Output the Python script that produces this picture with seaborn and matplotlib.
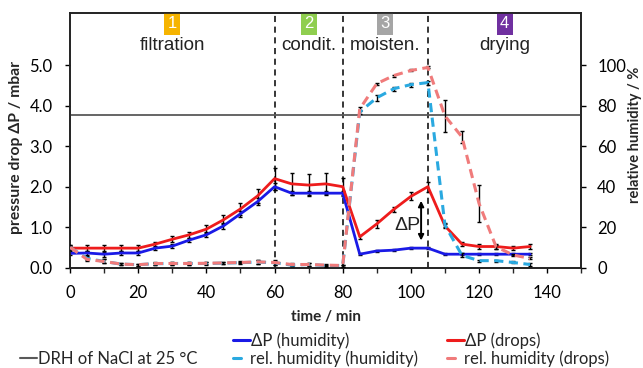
import numpy as np
import pandas as pd
import matplotlib
matplotlib.use('Agg')
import matplotlib.pyplot as plt
import seaborn as sns
from matplotlib.lines import Line2D

# time axis (min)
time = [0, 5, 10, 15, 20, 25, 30, 35, 40, 45, 50, 55, 60, 65, 70, 75, 80,
        85, 90, 95, 100, 105, 110, 115, 120, 125, 130, 135]

# pressure drop (mbar)
dp_humidity = [0.35, 0.36, 0.33, 0.36, 0.36, 0.48, 0.53, 0.68, 0.81, 1.03, 1.33, 1.63, 2.00,
               1.84, 1.84, 1.84, 1.84,
               0.33, 0.41, 0.43, 0.48, 0.48, 0.33, 0.33, 0.33, 0.33, 0.33, 0.33]
dp_humidity_err = [0.05, 0.06, 0.06, 0.06, 0.06, 0.05, 0.05, 0.06, 0.06, 0.08, 0.08, 0.08, 0.08,
                   0.05, 0.05, 0.05, 0.05,
                   0.03, 0.03, 0.03, 0.03, 0.03, 0.03, 0.03, 0.03, 0.03, 0.03, 0.03]
dp_drops = [0.48, 0.48, 0.48, 0.48, 0.48, 0.58, 0.70, 0.81, 0.95, 1.18, 1.45, 1.77, 2.20,
            2.07, 2.04, 2.07, 2.00,
            0.76, 1.08, 1.44, 1.76, 2.00, 1.03, 0.58, 0.52, 0.52, 0.48, 0.52]
dp_drops_err = [0.05, 0.08, 0.08, 0.07, 0.07, 0.06, 0.07, 0.08, 0.09, 0.11, 0.15, 0.17, 0.27,
                0.27, 0.27, 0.26, 0.22,
                0.05, 0.1, 0.06, 0.1, 0.12, 0.05, 0.05, 0.06, 0.06, 0.05, 0.06]

# relative humidity (%)
rh_humidity = [10, 4.5, 3, 1.7, 1.4, 1.9, 2, 2, 2, 2.2, 2.4, 2.7, 2.4,
               1.2, 1.5, 1, 1,
               77, 84, 88.5, 90.5, 91.5, 21, 6, 3.4, 3.4, 2.5, 1.5]
rh_humidity_err = [1, 1, 1, 0.5, 0.5, 0.5, 0.5, 0.5, 0.5, 0.5, 0.5, 1, 1,
                   0.5, 0.5, 0.5, 0.5,
                   1, 1.5, 1, 1, 1, 1, 1, 0.5, 0.5, 0.5, 0.5]
rh_drops = [10, 4, 3, 1.7, 1.4, 2, 2, 2, 2.1, 2.3, 2.5, 2.8, 2.5,
            1.5, 1.5, 1.2, 1,
            78.5, 91, 95, 97.5, 99, 75, 64.6, 31.7, 10.3, 6.2, 4.5]
rh_drops_err = [1, 1, 1, 0.5, 0.5, 0.5, 0.5, 0.5, 0.5, 0.5, 0.5, 1, 1,
                0.5, 0.5, 0.5, 0.5,
                1, 0.5, 0.5, 0.5, 0.5, 8, 3, 9, 1, 0.5, 0.5]

drh_nacl = 75.3
phase_bounds = [60, 80, 105]
phase_names = ['filtration', 'condit.', 'moisten.', 'drying']
phase_nums = ['1', '2', '3', '4']
phase_x = [30, 70, 92.5, 127.5]
phase_colors = ['#f6b400', '#8fce4f', '#a5a5a5', '#7030a0']

df = pd.DataFrame({'time': time, 'dp_h': dp_humidity, 'dp_d': dp_drops,
                   'rh_h': rh_humidity, 'rh_d': rh_drops})

sns.set_style('ticks')
plt.rcParams['font.family'] = ['Lato', 'DejaVu Sans']

blue = '#1a1ae6'
red = '#ee1c1c'
lblue = '#2aa9e0'
lred = '#f07b7b'
gray = '#595959'

fig = plt.figure(figsize=(6.43, 3.68), dpi=100)
ax = fig.add_axes([0.109, 0.273, 0.795, 0.692])
ax2 = ax.twinx()

# pressure drop
ax.errorbar(time, dp_humidity, yerr=dp_humidity_err, fmt='none', ecolor='k', elinewidth=1, capsize=1.5, zorder=3)
ax.errorbar(time, dp_drops, yerr=dp_drops_err, fmt='none', ecolor='k', elinewidth=1, capsize=1.5, zorder=3)
sns.lineplot(data=df, x='time', y='dp_h', ax=ax, color=blue, lw=2, zorder=4)
sns.lineplot(data=df, x='time', y='dp_d', ax=ax, color=red, lw=2, zorder=4)

for b in phase_bounds:
    ax.axvline(b, color='k', lw=1.1, ls=(0, (4, 3)), zorder=2)

# relative humidity
ax2.axhline(drh_nacl, color=gray, lw=1.3, zorder=1)
ax2.errorbar(time, rh_humidity, yerr=rh_humidity_err, fmt='none', ecolor='k', elinewidth=1, capsize=1.5, zorder=3)
ax2.errorbar(time, rh_drops, yerr=rh_drops_err, fmt='none', ecolor='k', elinewidth=1, capsize=1.5, zorder=3)
sns.lineplot(data=df, x='time', y='rh_h', ax=ax2, color=lblue, lw=2.2, ls=(0, (3, 1.8)), zorder=4)
sns.lineplot(data=df, x='time', y='rh_d', ax=ax2, color=lred, lw=2.2, ls=(0, (3, 1.8)), zorder=4)

ax.set_xlim(0, 150)
ax.set_ylim(0, 6.3)
ax2.set_ylim(0, 126)
ax.set_xticks(range(0, 141, 20))
ax.set_xticks(range(0, 151, 10), minor=True)
ax.tick_params(axis='x', which='minor', length=3.5, width=1)
ax.set_yticks(np.arange(0, 5.1, 1))
ax.set_yticklabels([f'{v:.1f}' for v in np.arange(0, 5.1, 1)])
ax2.set_yticks(range(0, 101, 20))
for a in (ax, ax2):
    a.tick_params(labelsize=12, length=3.5, width=1, colors='k')
    for s in a.spines.values():
        s.set_color('#222222')
        s.set_linewidth(1.2)
ax.tick_params(axis='y', pad=9)
ax.tick_params(axis='x', pad=9)
ax2.tick_params(axis='y', pad=8)

ax.set_xlabel('time / min', fontsize=11, fontweight='bold')
ax.set_ylabel('pressure drop ΔP / mbar', fontsize=11.3, fontweight='bold')
ax2.set_ylabel('relative humidity / %', fontsize=10.5, fontweight='bold')
ax.xaxis.set_label_coords(0.5, -0.165)
ax.yaxis.set_label_coords(-0.092, 0.47)
ax2.yaxis.set_label_coords(1.092, 0.52)

# phase labels
trans = ax.get_xaxis_transform()
for xc, nm, num, col in zip(phase_x, phase_names, phase_nums, phase_colors):
    ax.text(xc, 0.957, num, transform=trans, ha='center', va='center', color='white',
            fontsize=12, family='Liberation Sans',
            bbox=dict(boxstyle='square,pad=0.2', fc=col, ec='none'))
    ax.text(xc, 0.872, nm, transform=trans, ha='center', va='center', color='#222222',
            fontsize=13.5, family='Liberation Sans')

# delta P arrow
ax.annotate('', xy=(103, 0.6), xytext=(103, 1.72),
            arrowprops=dict(arrowstyle='<|-|>', color='k', lw=1.4, mutation_scale=8))
ax.text(99, 1.05, 'ΔP', ha='center', va='center', fontsize=14, family='Liberation Sans', color='#222222')

# legend, one entry per slot as in the original layout
entries = [
    (Line2D([], [], color=blue, lw=2.2, ls='-'), 'ΔP (humidity)', 233, 341, 1.0),
    (Line2D([], [], color=red, lw=2.2, ls='-'), 'ΔP (drops)', 447, 341, 1.0),
    (Line2D([], [], color=gray, lw=1.5, ls='-'), 'DRH of NaCl at 25 °C', 20, 359, 1.0),
    (Line2D([], [], color=lblue, lw=2.2, ls='-'), 'rel. humidity (humidity)', 233, 359, 0.45),
    (Line2D([], [], color=lred, lw=2.2, ls='-'), 'rel. humidity (drops)', 447, 359, 0.45),
]
W, H = 643, 368
for h, lab, px, py, hl in entries:
    fig.legend([h], [lab], loc='center left', bbox_to_anchor=(px / W, 1 - py / H),
               frameon=False, fontsize=12, handlelength=hl, handletextpad=0.55 if hl < 1 else 0.1,
               borderpad=0, borderaxespad=0)

fig.savefig('out.png', dpi=100)
